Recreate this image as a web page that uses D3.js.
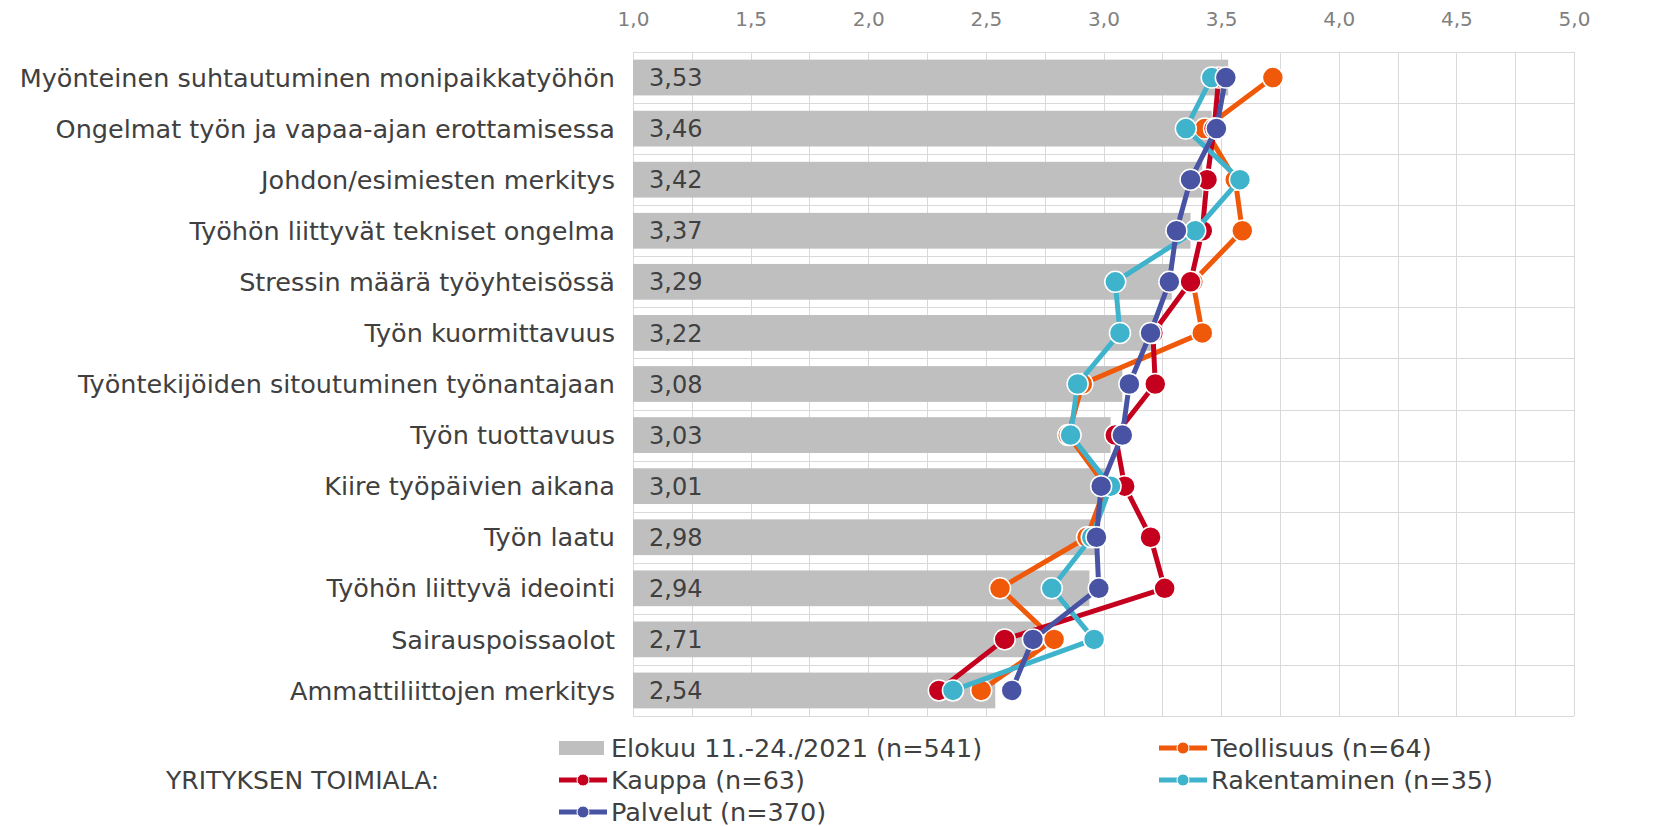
<!DOCTYPE html>
<html>
<head>
<meta charset="utf-8">
<script src="https://cdn.jsdelivr.net/npm/d3@7"></script>
<style>
  body { margin: 0; background: #fff; }
  text { font-family: Verdana, "DejaVu Sans", sans-serif; }
</style>
</head>
<body>
<div class="chart"></div>
<script>
// DATA
const categories = [
    "Myönteinen suhtautuminen monipaikkatyöhön",
    "Ongelmat työn ja vapaa-ajan erottamisessa",
    "Johdon/esimiesten merkitys",
    "Työhön liittyvät tekniset ongelma",
    "Stressin määrä työyhteisössä",
    "Työn kuormittavuus",
    "Työntekijöiden sitoutuminen työnantajaan",
    "Työn tuottavuus",
    "Kiire työpäivien aikana",
    "Työn laatu",
    "Työhön liittyvä ideointi",
    "Sairauspoissaolot",
    "Ammattiliittojen merkitys"
];
const total        = [3.53, 3.46, 3.42, 3.37, 3.29, 3.22, 3.08, 3.03, 3.01, 2.98, 2.94, 2.71, 2.54];
const teollisuus   = [3.72, 3.43, 3.56, 3.59, 3.38, 3.42, 2.91, 2.85, 3.01, 2.93, 2.56, 2.79, 2.48];
const kauppa       = [3.49, 3.47, 3.44, 3.42, 3.37, 3.21, 3.22, 3.05, 3.09, 3.20, 3.26, 2.58, 2.30];
const rakentaminen = [3.46, 3.35, 3.58, 3.39, 3.05, 3.07, 2.89, 2.86, 3.03, 2.95, 2.78, 2.96, 2.36];
const palvelut     = [3.52, 3.48, 3.37, 3.31, 3.28, 3.20, 3.11, 3.08, 2.99, 2.97, 2.98, 2.70, 2.61];
const tickValues   = [1, 1.5, 2, 2.5, 3, 3.5, 4, 4.5, 5];

const barName = "Elokuu 11.-24./2021 (n=541)";
const seriesNames = ["Teollisuus (n=64)", "Kauppa (n=63)", "Rakentaminen (n=35)", "Palvelut (n=370)"];
const seriesValues = [teollisuus, kauppa, rakentaminen, palvelut];
const seriesColors = ["#F0590A", "#C5001E", "#40B3CC", "#4953A3"];

// INITIALIZATION
let width = 1662, height = 826;
let plot = { left: 633, right: 1574, top: 52, bottom: 716 };

let svg = d3
    .select(".chart")
    .append("svg")
    .attr("width", width)
    .attr("height", height);

let xScale = d3.scaleLinear()
    .domain([1, 5])
    .range([plot.left, plot.right]);

let yScale = d3.scaleBand()
    .domain(categories)
    .range([plot.top, plot.bottom])
    .paddingInner(0.3)
    .paddingOuter(0.15);

const step = yScale.step();
const center = d => yScale(d) + yScale.bandwidth() / 2;
const comma = d3.formatLocale({ decimal: ",", thousands: " ", grouping: [3], currency: ["", "€"] });
const fmt1 = comma.format(".1f"), fmt2 = comma.format(".2f");

// grid
let grid = svg.append("g").attr("stroke", "#D9D9D9").attr("stroke-width", 1);
grid.selectAll(".vline")
    .data(d3.range(1, 5.001, 0.25))
    .enter().append("line")
    .attr("x1", d => Math.round(xScale(d)) + 0.5)
    .attr("x2", d => Math.round(xScale(d)) + 0.5)
    .attr("y1", plot.top)
    .attr("y2", plot.bottom);
grid.selectAll(".hline")
    .data(d3.range(categories.length + 1))
    .enter().append("line")
    .attr("x1", plot.left)
    .attr("x2", plot.right)
    .attr("y1", i => Math.round(plot.top + i * step) + 0.5)
    .attr("y2", i => Math.round(plot.top + i * step) + 0.5);

// top axis
let xAxis = d3.axisTop(xScale)
    .tickValues(tickValues)
    .tickSize(0)
    .tickPadding(26)
    .tickFormat(fmt1);

svg.append("g")
    .attr("class", "axis x-axis")
    .attr("transform", `translate(0,${plot.top})`)
    .call(xAxis)
    .call(g => g.select(".domain").remove())
    .call(g => g.selectAll("text")
        .attr("fill", "#808080")
        .style("font-size", "20px"));

// bars
svg.selectAll(".bar")
    .data(categories)
    .enter().append("rect")
    .attr("class", "bar")
    .attr("x", xScale(1))
    .attr("y", d => yScale(d))
    .attr("width", (d, i) => xScale(total[i]) - xScale(1))
    .attr("height", yScale.bandwidth())
    .attr("fill", "#BFBFBF");

svg.selectAll(".barlabel")
    .data(categories)
    .enter().append("text")
    .attr("class", "barlabel")
    .attr("x", xScale(1) + 16)
    .attr("y", d => center(d))
    .attr("dy", "0.36em")
    .attr("fill", "#404040")
    .style("font-size", "24px")
    .text((d, i) => fmt2(total[i]));

// category labels
svg.selectAll(".catlabel")
    .data(categories)
    .enter().append("text")
    .attr("class", "catlabel")
    .attr("x", 615)
    .attr("y", d => center(d))
    .attr("dy", "0.36em")
    .attr("text-anchor", "end")
    .attr("fill", "#404040")
    .style("font-size", "25.5px")
    .text(d => d);

// lines + markers
let line = d3.line()
    .x(d => xScale(d.v))
    .y(d => center(d.c));

seriesValues.forEach((vals, s) => {
    let pts = categories.map((c, i) => ({ c: c, v: vals[i] }));
    let g = svg.append("g").attr("class", "series");
    g.append("path")
        .datum(pts)
        .attr("d", line)
        .attr("fill", "none")
        .attr("stroke", seriesColors[s])
        .attr("stroke-width", 5)
        .attr("stroke-linejoin", "round");
    g.selectAll("circle")
        .data(pts)
        .enter().append("circle")
        .attr("cx", d => xScale(d.v))
        .attr("cy", d => center(d.c))
        .attr("r", 10.5)
        .attr("fill", seriesColors[s])
        .attr("stroke", "#fff")
        .attr("stroke-width", 1.5);
});

// legend
let legend = svg.append("g").attr("class", "legend");
const legX = [559, 1159], legY = [748, 780, 812];
let items = [{ name: barName, bar: true }]
    .concat(seriesNames.map((n, i) => ({ name: n, color: seriesColors[i] })));

items.forEach((it, k) => {
    let lx = legX[k % 2], ly = legY[Math.floor(k / 2)];
    let g = legend.append("g").attr("transform", `translate(${lx},${ly})`);
    if (it.bar) {
        g.append("rect")
            .attr("x", 0).attr("y", -7)
            .attr("width", 45).attr("height", 14)
            .attr("fill", "#BFBFBF");
    } else {
        g.append("line")
            .attr("x1", 0).attr("x2", 48)
            .attr("stroke", it.color)
            .attr("stroke-width", 5);
        g.append("circle")
            .attr("cx", 24).attr("r", 6)
            .attr("fill", it.color)
            .attr("stroke", "#fff")
            .attr("stroke-width", 1);
    }
    g.append("text")
        .attr("x", 52)
        .attr("dy", "0.36em")
        .attr("fill", "#404040")
        .style("font-size", "25.5px")
        .text(it.name);
});

svg.append("text")
    .attr("x", 166)
    .attr("y", 780)
    .attr("dy", "0.36em")
    .attr("fill", "#404040")
    .style("font-size", "25px")
    .text("YRITYKSEN TOIMIALA:");
</script>
</body>
</html>
